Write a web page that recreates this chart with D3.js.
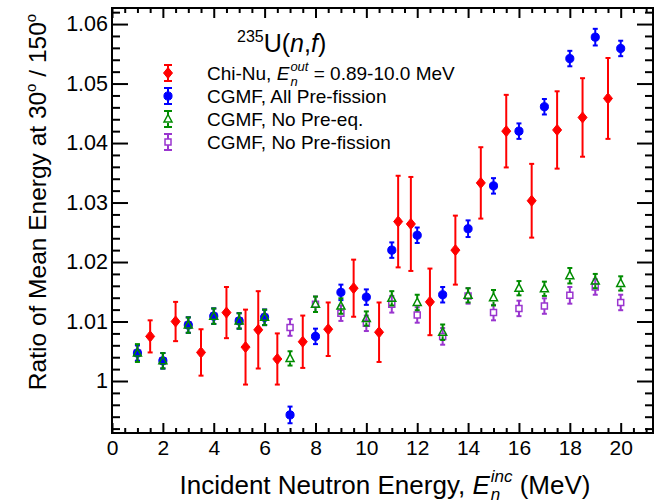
<!DOCTYPE html>
<html>
<head>
<meta charset="utf-8">
<script src="https://cdn.jsdelivr.net/npm/d3@7"></script>
<style>
  body { margin: 0; background: #fff; }
  text { font-family: "Liberation Sans", Arial, Helvetica, sans-serif; fill: #000; white-space: pre; }
</style>
</head>
<body>
<script>
const width = 670, height = 503

// Chi-Nu measurement
const chiNuE = [1.5, 2.5, 3.5, 4.5, 5.25, 5.75, 6.5, 7.5, 8.5, 9.5, 10.5, 11.25, 11.75, 12.5, 13.5, 14.5, 15.5, 16.5, 17.5, 18.5, 19.5]
const chiNuRatio = [1.0075, 1.0100, 1.0048, 1.0115, 1.0057, 1.0086, 1.0037, 1.0066, 1.0087, 1.0156, 1.0082, 1.0268, 1.0264, 1.0133, 1.0220, 1.0333, 1.0420, 1.0303, 1.0422, 1.0443, 1.0475]
const chiNuErr = [0.0027, 0.0033, 0.0039, 0.0043, 0.0063, 0.0065, 0.0043, 0.0044, 0.0045, 0.0048, 0.0050, 0.0077, 0.0079, 0.0056, 0.0058, 0.0060, 0.0061, 0.0062, 0.0065, 0.0066, 0.0068]

// CGMF calculations, one value per MeV
const cgmfE = [1, 2, 3, 4, 5, 6, 7, 8, 9, 10, 11, 12, 13, 14, 15, 16, 17, 18, 19, 20]
const allPreRatio = [1.0047, 1.0034, 1.0094, 1.0109, 1.0101, 1.0107, 0.9943, 1.0075, 1.0149, 1.0141, 1.0220, 1.0245, 1.0145, 1.0256, 1.0328, 1.0420, 1.0461, 1.0542, 1.0578, 1.0559]
const allPreErr = [0.0013, 0.0013, 0.0013, 0.0013, 0.0013, 0.0013, 0.0014, 0.0013, 0.0013, 0.0013, 0.0013, 0.0013, 0.0013, 0.0014, 0.0013, 0.0013, 0.0013, 0.0013, 0.0014, 0.0013]
const noPreEqRatio = [1.0047, 1.0034, 1.0094, 1.0109, 1.0101, 1.0107, 1.0038, 1.0129, 1.0126, 1.0105, 1.0139, 1.0132, 1.0082, 1.0144, 1.0140, 1.0156, 1.0155, 1.0177, 1.0168, 1.0164]
const noPreEqErr = [0.0015, 0.0013, 0.0013, 0.0013, 0.0013, 0.0013, 0.0012, 0.0013, 0.0013, 0.0012, 0.0012, 0.0013, 0.0013, 0.0012, 0.0013, 0.0012, 0.0012, 0.0013, 0.0012, 0.0012]
const noPreFisRatio = [1.0047, 1.0034, 1.0094, 1.0109, 1.0101, 1.0107, 1.0090, 1.0129, 1.0114, 1.0097, 1.0129, 1.0111, 1.0075, 1.0143, 1.0115, 1.0122, 1.0126, 1.0144, 1.0158, 1.0132]
const noPreFisErr = [0.0013, 0.0013, 0.0013, 0.0013, 0.0013, 0.0013, 0.0014, 0.0013, 0.0013, 0.0013, 0.0014, 0.0013, 0.0014, 0.0013, 0.0013, 0.0013, 0.0013, 0.0014, 0.0013, 0.0013]

const xMajor = [0, 2, 4, 6, 8, 10, 12, 14, 16, 18, 20]
const yMajor = [1, 1.01, 1.02, 1.03, 1.04, 1.05, 1.06]
const yTickLabels = ['1', '1.01', '1.02', '1.03', '1.04', '1.05', '1.06']

const plotLeft = 112, plotRight = 653, plotTop = 8, plotBottom = 433

let x = d3.scaleLinear().domain([0, 21.27]).range([plotLeft, plotRight])
let y = d3.scaleLinear().domain([0.99126, 1.0627]).range([plotBottom, plotTop])

let svg = d3.select('body').append('svg')
  .attr('width', width)
  .attr('height', height)

svg.append('rect').attr('width', width).attr('height', height).attr('fill', '#fff')

// minor tick positions
let xMinor = d3.range(1, 43).map(i => i * 0.5).filter(v => v % 2 !== 0 && x(v) < plotRight - 2)
let yMinor = d3.range(496, 532).map(i => i * 0.002).filter(v => Math.abs(v * 100 - Math.round(v * 100)) > 1e-6 && v > 0.99126 && v < 1.0627)

function styleAxis(g) {
  g.selectAll('path').remove()
  g.selectAll('line').attr('stroke', '#000').attr('stroke-width', 2)
}

// bottom axis
svg.append('g').attr('transform', `translate(0,${plotBottom})`)
  .call(d3.axisBottom(x).tickValues(xMajor).tickSize(-10).tickPadding(5).tickFormat(d3.format('d')))
  .call(styleAxis)
  .call(g => g.selectAll('text').style('font-size', '21px').attr('dy', '0.71em').attr('y', 7))
svg.append('g').attr('transform', `translate(0,${plotBottom})`)
  .call(d3.axisBottom(x).tickValues(xMinor).tickSize(-5).tickFormat(''))
  .call(styleAxis)
// top axis
svg.append('g').attr('transform', `translate(0,${plotTop})`)
  .call(d3.axisTop(x).tickValues(xMajor).tickSize(-10).tickFormat(''))
  .call(styleAxis)
svg.append('g').attr('transform', `translate(0,${plotTop})`)
  .call(d3.axisTop(x).tickValues(xMinor).tickSize(-5).tickFormat(''))
  .call(styleAxis)
// left axis
svg.append('g').attr('transform', `translate(${plotLeft},0)`)
  .call(d3.axisLeft(y).tickValues(yMajor).tickSize(-16).tickPadding(4).tickFormat((d, i) => yTickLabels[i]))
  .call(styleAxis)
  .call(g => g.selectAll('text').style('font-size', '21.5px'))
svg.append('g').attr('transform', `translate(${plotLeft},0)`)
  .call(d3.axisLeft(y).tickValues(yMinor).tickSize(-8).tickFormat(''))
  .call(styleAxis)
// right axis
svg.append('g').attr('transform', `translate(${plotRight},0)`)
  .call(d3.axisRight(y).tickValues(yMajor).tickSize(-16).tickFormat(''))
  .call(styleAxis)
svg.append('g').attr('transform', `translate(${plotRight},0)`)
  .call(d3.axisRight(y).tickValues(yMinor).tickSize(-8).tickFormat(''))
  .call(styleAxis)

// frame
svg.append('rect')
  .attr('x', plotLeft).attr('y', plotTop)
  .attr('width', plotRight - plotLeft).attr('height', plotBottom - plotTop)
  .attr('fill', 'none').attr('stroke', '#000').attr('stroke-width', 2)

// markers
const markers = {
  diamond: 'M0,-5.5L4.5,0L0,5.5L-4.5,0Z',
  circle: d3.symbol(d3.symbolCircle, 52)(),
  triangle: 'M0,-4.5L4,3L-4,3Z',
  square: 'M-3,-3H3V3H-3Z'
}
const series = [
  { name: 'noPreFis', xs: cgmfE, ys: noPreFisRatio, es: noPreFisErr, color: '#9a35cf', shape: 'square', open: true, gap: 3 },
  { name: 'allPre', xs: cgmfE, ys: allPreRatio, es: allPreErr, color: '#0000ff', shape: 'circle', open: false, gap: 0 },
  { name: 'noPreEq', xs: cgmfE, ys: noPreEqRatio, es: noPreEqErr, color: '#008c00', shape: 'triangle', open: true, gap: 4 },
  { name: 'chiNu', xs: chiNuE, ys: chiNuRatio, es: chiNuErr, color: '#ff0000', shape: 'diamond', open: false, gap: 0 }
]

function drawPoint(g, px, py, yTop, yBot, s, cap) {
  g.append('line').attr('x1', px).attr('x2', px).attr('y1', yTop).attr('y2', py - s.gap)
    .attr('stroke', s.color).attr('stroke-width', 2)
  g.append('line').attr('x1', px).attr('x2', px).attr('y1', py + s.gap).attr('y2', yBot)
    .attr('stroke', s.color).attr('stroke-width', 2)
  g.append('line').attr('x1', px - cap).attr('x2', px + cap).attr('y1', yTop).attr('y2', yTop)
    .attr('stroke', s.color).attr('stroke-width', 2)
  g.append('line').attr('x1', px - cap).attr('x2', px + cap).attr('y1', yBot).attr('y2', yBot)
    .attr('stroke', s.color).attr('stroke-width', 2)
  g.append('path').attr('d', markers[s.shape])
    .attr('transform', `translate(${px},${py})`)
    .attr('fill', s.open ? 'none' : s.color)
    .attr('stroke', s.color).attr('stroke-width', s.open ? 1.5 : 1)
}

series.forEach(s => {
  let g = svg.append('g').attr('id', s.name)
  s.xs.forEach((e, i) => {
    drawPoint(g, x(e), y(s.ys[i]), y(s.ys[i] + s.es[i]), y(s.ys[i] - s.es[i]), s, 2.5)
  })
})

// legend
svg.append('text').attr('x', 237).attr('y', 52).style('font-size', '25px')
  .call(t => {
    t.append('tspan').text('235').style('font-size', '16px').attr('dy', -10)
    t.append('tspan').text('U(').attr('dy', 10)
    t.append('tspan').text('n').style('font-style', 'italic')
    t.append('tspan').text(',')
    t.append('tspan').text('f').style('font-style', 'italic')
    t.append('tspan').text(')')
  })

const legendRows = [
  { s: series[3], y: 73 },
  { s: series[1], y: 96 },
  { s: series[2], y: 119 },
  { s: series[0], y: 142 }
]
legendRows.forEach(r => {
  let g = svg.append('g')
  drawPoint(g, 168, r.y, r.y - 8, r.y + 8, r.s, 4)
})

const legendX = 207
function textAt(xp, yp, str, size, italic) {
  let t = svg.append('text').attr('x', xp).attr('y', yp)
    .attr('xml:space', 'preserve')
    .style('font-size', size + 'px').text(str)
  if (italic) t.style('font-style', 'italic')
  return t
}
// Chi-Nu row with E_n^out
let t1 = textAt(legendX, 80, 'Chi-Nu, ', 19)
let w1 = t1.node().getComputedTextLength()
let tE = textAt(legendX + w1, 80, 'E', 19, true)
let wE = tE.node().getComputedTextLength()
let tOut = textAt(legendX + w1 + wE + 1, 71, 'out', 13, true)
let tN = textAt(legendX + w1 + wE + 1, 86, 'n', 13, true)
let wSub = Math.max(tOut.node().getComputedTextLength() + 1, tN.node().getComputedTextLength())
textAt(legendX + w1 + wE + wSub, 80, ' = 0.89-10.0 MeV', 19)
textAt(legendX, 103, 'CGMF, All Pre-fission', 19)
textAt(legendX, 126, 'CGMF, No Pre-eq.', 19)
textAt(legendX, 149, 'CGMF, No Pre-fission', 19)

// y axis title
svg.append('text')
  .attr('transform', `translate(46,${(plotTop + 390) / 2 + 3}) rotate(-90)`)
  .attr('text-anchor', 'middle')
  .style('font-size', '24.5px')
  .call(t => {
    t.append('tspan').text('Ratio of Mean Energy at 30')
    t.append('tspan').text('o').style('font-size', '15px').attr('dy', -10)
    t.append('tspan').text(' / 150').attr('dy', 10)
    t.append('tspan').text('o').style('font-size', '15px').attr('dy', -10)
  })

// x axis title with E_n^inc
const xtY = 494
let xa = textAt(0, xtY, 'Incident Neutron Energy, ', 26)
let wa = xa.node().getComputedTextLength()
let xE = textAt(0, xtY, 'E', 26, true)
let wxE = xE.node().getComputedTextLength()
let xInc = textAt(0, xtY - 12, 'inc', 17, true)
let xN = textAt(0, xtY + 6, 'n', 17, true)
let wx2 = Math.max(xInc.node().getComputedTextLength() + 1, xN.node().getComputedTextLength())
let xb = textAt(0, xtY, ' (MeV)', 26)
let wb = xb.node().getComputedTextLength()
let total = wa + wxE + wx2 + wb
let x0 = 385 - total / 2
xa.attr('x', x0)
xE.attr('x', x0 + wa)
xInc.attr('x', x0 + wa + wxE + 1)
xN.attr('x', x0 + wa + wxE + 1)
xb.attr('x', x0 + wa + wxE + wx2)
</script>
</body>
</html>
